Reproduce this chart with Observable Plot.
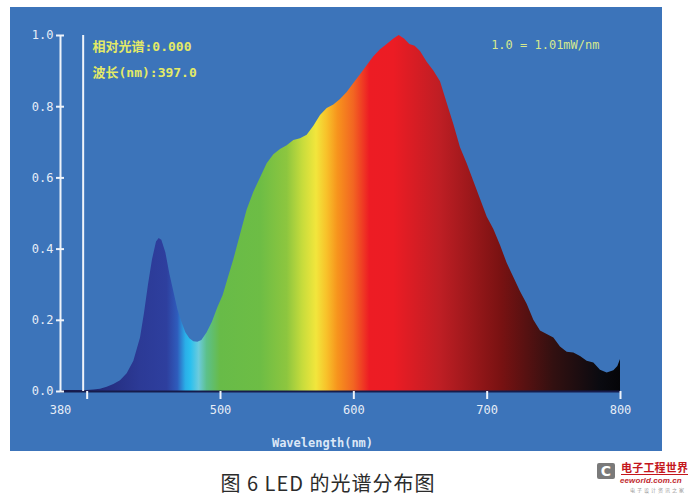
<!DOCTYPE html>
<html>
<head>
<meta charset="utf-8">
<script src="https://cdn.jsdelivr.net/npm/d3@7"></script>
<script src="https://cdn.jsdelivr.net/npm/@observablehq/plot@0.6"></script>
<style>
  html, body { margin: 0; padding: 0; background: #ffffff; }
  #page { position: relative; width: 693px; height: 497px; overflow: hidden; }
  #chart { position: absolute; left: 10px; top: 7px; }
  #caption { position: absolute; left: 0; width: 656px; top: 468px; text-align: center;
    font-family: "Noto Sans CJK SC", sans-serif; font-size: 20px; color: #2b2b2b; letter-spacing: 1px; }
  #logo { position: absolute; left: 597px; top: 461px; width: 94px; height: 36px; }
  #logo .icon { position: absolute; left: 0; top: 2px; width: 18px; height: 16px; background: #7a7a7a; border-radius: 2px;
    color: #fff; font: bold 14px "DejaVu Sans", sans-serif; line-height: 16px; text-align: center; }
  #logo .cn { position: absolute; left: 24px; top: 0px; font: bold 11px "Noto Sans CJK SC", sans-serif; color: #c4161c;
    line-height: 13px; border-bottom: 1px solid #c4161c; letter-spacing: 0.2px; white-space: nowrap; }
  #logo .en { position: absolute; left: 23px; top: 15px; font: italic bold 8px "Liberation Sans", sans-serif; color: #c0282d;
    white-space: nowrap; letter-spacing: 0.1px; }
  #logo .sub { position: absolute; left: 33px; top: 25px; font: 5px "Noto Sans CJK SC", sans-serif; color: #9a9a9a;
    letter-spacing: 2px; white-space: nowrap; }
</style>
</head>
<body>
<div id="page">
  <div id="chart"></div>
  <div id="caption">图 6 LED 的光谱分布图</div>
  <div id="logo">
    <div class="icon">C</div>
    <div class="cn">电子工程世界</div>
    <div class="en">eeworld.com.cn</div>
    <div class="sub">电子设计资讯之家</div>
  </div>
</div>
<script>
// ---- data ----
const wavelengths = [380, 390, 400, 405, 410, 415, 420, 425, 430, 435, 440, 443, 446, 449, 452, 454, 456, 459, 462, 465,
  468, 471, 474, 477, 480, 483, 486, 490, 494, 498, 502, 506, 510, 515, 520, 525, 530, 535, 540, 545,
  550, 555, 560, 565, 570, 575, 580, 585, 590, 595, 600, 605, 610, 615, 620, 625, 630, 634, 638, 642,
  646, 650, 655, 660, 665, 670, 675, 680, 685, 690, 695, 700, 705, 710, 715, 720, 725, 730, 735, 740,
  745, 750, 755, 760, 765, 770, 775, 780, 785, 790, 795, 798, 800];
const intensity = [0.003, 0.003, 0.003, 0.004, 0.006, 0.012, 0.02, 0.03, 0.05, 0.085, 0.15, 0.22, 0.30, 0.37, 0.42, 0.43, 0.425, 0.39, 0.33, 0.28,
  0.23, 0.195, 0.165, 0.148, 0.14, 0.138, 0.143, 0.165, 0.195, 0.235, 0.27, 0.32, 0.37, 0.44, 0.51, 0.56, 0.60, 0.64, 0.665, 0.68,
  0.69, 0.705, 0.71, 0.72, 0.745, 0.775, 0.795, 0.805, 0.82, 0.84, 0.865, 0.89, 0.915, 0.94, 0.96, 0.975, 0.99, 1.0, 0.99, 0.975,
  0.97, 0.955, 0.925, 0.90, 0.87, 0.81, 0.75, 0.685, 0.64, 0.59, 0.54, 0.49, 0.455, 0.41, 0.36, 0.32, 0.28, 0.245, 0.20, 0.17,
  0.16, 0.15, 0.125, 0.11, 0.108, 0.098, 0.085, 0.08, 0.06, 0.052, 0.058, 0.07, 0.09];
const xTickMarks = [400, 500, 600, 700, 800];
const xTickLabels = [380, 500, 600, 700, 800];
const yTicks = [0, 0.2, 0.4, 0.6, 0.8, 1.0];
const cursorWavelength = 397;
const readoutLines = ["相对光谱:0.000", "波长(nm):397.0"];
const scaleNote = "1.0 = 1.01mW/nm";
const xLabel = "Wavelength(nm)";

// spectral colour ramp (wavelength -> colour)
const rampNm = [380, 415, 440, 460, 468, 474, 478, 484, 490, 500, 530, 550, 562, 572, 580, 588, 600, 612, 630, 665, 710, 750, 785, 800];
const rampColor = ["#14184a", "#252e80", "#2c3a96", "#2e3f9e", "#2f5cbc", "#2aaee8", "#2cc0ee", "#6ccbdc", "#5cc08a", "#68bb48",
  "#6dbd45", "#8dc63f", "#c8dc3c", "#f2e63c", "#f8c12a", "#f7941d", "#f26522", "#ed1c24", "#ec1c24", "#be1e24",
  "#7a1212", "#321010", "#0a0a10", "#050508"];

const data = wavelengths.map((w, i) => ({w, v: intensity[i]}));

function spectrumDefs(index, scales) {
  const ns = "http://www.w3.org/2000/svg";
  const defs = document.createElementNS(ns, "defs");
  const g = document.createElementNS(ns, "linearGradient");
  g.setAttribute("id", "spectrum");
  const lo = rampNm[0], hi = rampNm[rampNm.length - 1];
  if (scales && typeof scales.x === "function") {
    g.setAttribute("gradientUnits", "userSpaceOnUse");
    g.setAttribute("x1", scales.x(lo)); g.setAttribute("x2", scales.x(hi));
    g.setAttribute("y1", 0); g.setAttribute("y2", 0);
  }
  rampNm.forEach((nm, i) => {
    const s = document.createElementNS(ns, "stop");
    s.setAttribute("offset", (nm - lo) / (hi - lo));
    s.setAttribute("stop-color", rampColor[i]);
    g.appendChild(s);
  });
  defs.appendChild(g);
  return defs;
}

const white = "#eef3fa";
const readFont = "'DejaVu Sans Mono', 'Noto Sans CJK SC', monospace";
const chart = Plot.plot({
  width: 652,
  height: 444,
  marginLeft: 50,
  marginRight: 42,
  marginTop: 28,
  marginBottom: 60,
  style: {background: "#3c74ba", color: "#e6edf7", fontFamily: "'DejaVu Sans Mono', monospace", fontSize: "12px", overflow: "visible"},
  x: {domain: [380, 800], label: null},
  y: {domain: [0, 1], label: null},
  marks: [
    spectrumDefs,
    Plot.areaY(data, {x: "w", y: "v", fill: "url(#spectrum)", curve: "linear"}),
    Plot.ruleY([0], {stroke: "#161c4c", strokeWidth: 2}),
    Plot.ruleX([380], {y1: 0, y2: 1, stroke: white, strokeWidth: 2}),
    Plot.ruleX([cursorWavelength], {y1: 0, y2: 1, stroke: white, strokeWidth: 2}),
    Plot.axisY({ticks: yTicks, tickSize: 8, dx: 4, tickFormat: () => "", stroke: white, strokeWidth: 2, label: null}),
    Plot.axisY({ticks: yTicks, tickSize: 0, tickPadding: 7, tickFormat: d3.format(".1f"), fill: "#e6edf7", label: null}),
    Plot.axisX({ticks: xTickMarks, tickSize: 8, tickFormat: () => "", stroke: white, strokeWidth: 2, label: null}),
    Plot.axisX({ticks: xTickLabels, tickSize: 0, tickPadding: 14, tickFormat: d3.format("d"), fill: "#e6edf7", label: null}),
    Plot.text([readoutLines[0]], {frameAnchor: "top-left", lineAnchor: "middle", dx: 32, dy: 11, fill: "#e4ea66", fontSize: 13,
      fontWeight: "bold", textAnchor: "start", fontFamily: readFont}),
    Plot.text([readoutLines[1]], {frameAnchor: "top-left", lineAnchor: "middle", dx: 32, dy: 37, fill: "#e4ea66", fontSize: 13,
      fontWeight: "bold", textAnchor: "start", fontFamily: readFont}),
    Plot.text([scaleNote], {frameAnchor: "top-right", lineAnchor: "middle", dx: -21, dy: 10, fill: "#d6e98e", fontSize: 12,
      textAnchor: "end", fontFamily: "'DejaVu Sans Mono', monospace"}),
    Plot.text([xLabel], {frameAnchor: "bottom", lineAnchor: "middle", dx: -18, dy: 52, fill: "#dbe7f7", fontSize: 12,
      fontWeight: "bold", fontFamily: "'DejaVu Sans Mono', monospace"})
  ]
});
document.getElementById("chart").appendChild(chart);
</script>
</body>
</html>
